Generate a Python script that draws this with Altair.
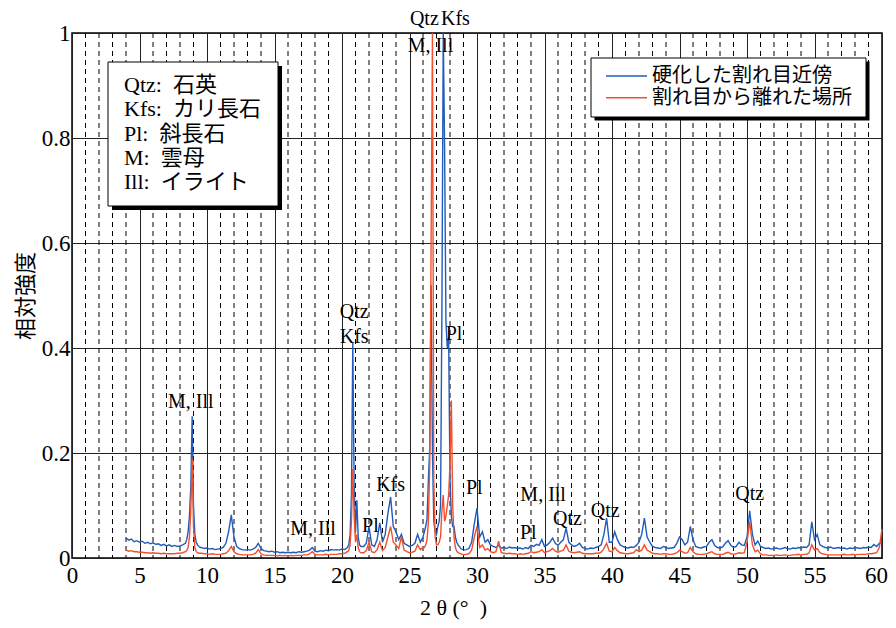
import altair as alt
import pandas as pd

# ---------------- data ----------------
SERIES_NEAR = "硬化した割れ目近傍"
SERIES_FAR = "割れ目から離れた場所"

x_a = [4.0, 4.2, 4.4, 4.6, 4.8, 5.0, 5.2, 5.4, 5.6, 5.8, 6.0, 6.2, 6.4, 6.6, 6.8,
       7.0, 7.2, 7.4, 7.6, 7.8, 8.0, 8.2, 8.4]
near_a = [0.038, 0.034, 0.036, 0.031, 0.033, 0.030, 0.032, 0.028, 0.030, 0.027,
          0.029, 0.026, 0.027, 0.024, 0.026, 0.023, 0.025, 0.022, 0.024, 0.022,
          0.023, 0.025, 0.028]
far_a = [0.015, 0.013, 0.014, 0.012, 0.012, 0.011, 0.011, 0.010, 0.010, 0.009,
         0.010, 0.009, 0.009, 0.008, 0.009, 0.008, 0.008, 0.008, 0.008, 0.009,
         0.009, 0.010, 0.012]

x_b = [8.5, 8.6, 8.7, 8.8, 8.9, 9.0, 9.1, 9.2, 9.3, 9.4, 9.5]
near_b = [0.035, 0.05, 0.08, 0.135, 0.27, 0.10, 0.045, 0.030, 0.025, 0.022, 0.020]
far_b = [0.014, 0.02, 0.04, 0.09, 0.19, 0.06, 0.02, 0.012, 0.010, 0.009, 0.009]

x_c = [9.6, 9.8, 10.0, 10.2, 10.4,
       10.6, 10.8, 11.0, 11.2, 11.4,
       11.6, 11.8, 12.0, 12.2, 12.4,
       12.6, 12.8, 13.0, 13.2, 13.4,
       13.6, 13.8, 14.0, 14.2, 14.4,
       14.6, 14.8, 15.0, 15.2, 15.4,
       15.6, 15.8, 16.0, 16.2, 16.4,
       16.6, 16.8, 17.0, 17.2, 17.4,
       17.6, 17.8, 18.0, 18.2, 18.4,
       18.6, 18.8, 19.0, 19.2, 19.4,
       19.6, 19.8, 20.0, 20.2, 20.4]
near_c = [0.020, 0.018, 0.019, 0.017, 0.018,
          0.016, 0.017, 0.018, 0.020, 0.028,
          0.050, 0.082, 0.040, 0.022, 0.018,
          0.016, 0.015, 0.016, 0.015, 0.017,
          0.020, 0.028, 0.018, 0.014, 0.013,
          0.012, 0.013, 0.011, 0.012, 0.010,
          0.011, 0.010, 0.011, 0.010, 0.011,
          0.010, 0.012, 0.011, 0.012, 0.013,
          0.015, 0.020, 0.013, 0.012, 0.014,
          0.013, 0.015, 0.014, 0.016, 0.015,
          0.016, 0.015, 0.017, 0.016, 0.020]
far_c = [0.009, 0.008, 0.008, 0.007, 0.008,
         0.007, 0.007, 0.007, 0.008, 0.009,
         0.014, 0.022, 0.012, 0.008, 0.007,
         0.006, 0.006, 0.006, 0.006, 0.007,
         0.009, 0.016, 0.008, 0.006, 0.005,
         0.005, 0.005, 0.005, 0.004, 0.005,
         0.004, 0.005, 0.004, 0.005, 0.004,
         0.005, 0.005, 0.005, 0.006, 0.006,
         0.008, 0.012, 0.007, 0.006, 0.006,
         0.006, 0.007, 0.006, 0.007, 0.007,
         0.007, 0.008, 0.008, 0.009, 0.012]

x_d = [20.5, 20.6, 20.7, 20.8, 20.9, 21.0, 21.1, 21.2, 21.3, 21.4, 21.5]
near_d = [0.025, 0.045, 0.12, 0.41, 0.14, 0.05, 0.11, 0.04, 0.025, 0.022, 0.022]
far_d = [0.014, 0.025, 0.07, 0.17, 0.08, 0.03, 0.045, 0.02, 0.012, 0.010, 0.010]

x_e = [21.6, 21.8, 22.0, 22.2, 22.4,
       22.6, 22.8, 23.0, 23.2, 23.4,
       23.6, 23.8, 24.0, 24.2, 24.4,
       24.6, 24.8, 25.0, 25.2, 25.4,
       25.6, 25.8, 26.0]
near_e = [0.022, 0.028, 0.060, 0.025, 0.022,
          0.035, 0.067, 0.030, 0.045, 0.085,
          0.116, 0.060, 0.050, 0.035, 0.045,
          0.028, 0.025, 0.022, 0.024, 0.028,
          0.045, 0.030, 0.040]
far_e = [0.010, 0.014, 0.030, 0.012, 0.010,
         0.016, 0.030, 0.014, 0.020, 0.040,
         0.060, 0.030, 0.025, 0.018, 0.040,
         0.015, 0.012, 0.010, 0.011, 0.013,
         0.025, 0.016, 0.020]

x_f = [26.1, 26.2, 26.3, 26.4, 26.5,
       26.6, 26.7, 26.8, 26.9, 27.0,
       27.1, 27.2, 27.3, 27.4, 27.5,
       27.6, 27.7, 27.8, 27.9, 28.0,
       28.1, 28.2, 28.3, 28.4, 28.5,
       28.6]
near_f = [0.050, 0.060, 0.075, 0.15, 0.21,
          0.52, 0.20, 0.07, 0.05, 0.045,
          0.060, 0.070, 0.10, 0.47, 1.0,
          0.78, 0.45, 0.40, 0.42, 0.15,
          0.08, 0.06, 0.06, 0.04, 0.030,
          0.025]
far_f = [0.020, 0.025, 0.035, 0.07, 0.18,
         0.60, 1.0, 0.15, 0.04, 0.025,
         0.025, 0.030, 0.04, 0.09, 0.12,
         0.07, 0.08, 0.10, 0.12, 0.18,
         0.30, 0.10, 0.04, 0.02, 0.013,
         0.010]

x_g = [28.8, 29.0, 29.2, 29.4, 29.6, 29.8]
near_g = [0.018, 0.015, 0.016, 0.018, 0.030, 0.065]
far_g = [0.008, 0.006, 0.007, 0.008, 0.015, 0.040]

x_h = [30.0, 30.2, 30.4, 30.6, 30.8,
       31.0, 31.2, 31.4, 31.6, 31.8,
       32.0, 32.2, 32.4, 32.6, 32.8,
       33.0, 33.2, 33.4, 33.6, 33.8,
       34.0, 34.2, 34.4, 34.6, 34.8]
near_h = [0.095, 0.040, 0.050, 0.030, 0.035,
          0.025, 0.022, 0.020, 0.024, 0.019,
          0.020, 0.018, 0.021, 0.019, 0.020,
          0.018, 0.019, 0.017, 0.020, 0.018,
          0.024, 0.022, 0.026, 0.024, 0.035]
far_h = [0.060, 0.020, 0.025, 0.015, 0.018,
         0.012, 0.010, 0.012, 0.032, 0.010,
         0.009, 0.008, 0.009, 0.008, 0.008,
         0.007, 0.008, 0.007, 0.008, 0.009,
         0.012, 0.010, 0.011, 0.012, 0.016]

x_i = [35.0, 35.2, 35.4, 35.6, 35.8,
       36.0, 36.2, 36.4, 36.6, 36.8,
       37.0, 37.2, 37.4, 37.6, 37.8,
       38.0, 38.2, 38.4, 38.6, 38.8,
       39.0, 39.2, 39.4, 39.6, 39.8]
near_i = [0.022, 0.025, 0.030, 0.038, 0.028,
          0.024, 0.030, 0.035, 0.057, 0.030,
          0.025, 0.022, 0.024, 0.028, 0.020,
          0.018, 0.017, 0.019, 0.018, 0.020,
          0.022, 0.025, 0.045, 0.076, 0.030]
far_i = [0.010, 0.012, 0.014, 0.018, 0.013,
         0.011, 0.013, 0.015, 0.025, 0.013,
         0.011, 0.010, 0.011, 0.012, 0.009,
         0.008, 0.008, 0.008, 0.008, 0.009,
         0.009, 0.011, 0.018, 0.028, 0.013]

x_j = [40.0, 40.2, 40.4, 40.6, 40.8,
       41.0, 41.2, 41.4, 41.6, 41.8,
       42.0, 42.2, 42.4, 42.6, 42.8,
       43.0, 43.2, 43.4, 43.6, 43.8,
       44.0, 44.2, 44.4, 44.6, 44.8]
near_j = [0.030, 0.050, 0.035, 0.025, 0.022,
          0.020, 0.019, 0.021, 0.020, 0.024,
          0.030, 0.045, 0.076, 0.040, 0.030,
          0.022, 0.020, 0.019, 0.018, 0.022,
          0.020, 0.018, 0.019, 0.020, 0.028]
far_j = [0.012, 0.020, 0.014, 0.010, 0.009,
         0.008, 0.008, 0.009, 0.010, 0.016,
         0.012, 0.015, 0.025, 0.015, 0.012,
         0.009, 0.008, 0.008, 0.007, 0.008,
         0.008, 0.007, 0.007, 0.008, 0.010]

x_k = [45.0, 45.2, 45.4, 45.6, 45.8,
       46.0, 46.2, 46.4, 46.6, 46.8,
       47.0, 47.2, 47.4, 47.6, 47.8,
       48.0, 48.2, 48.4, 48.6, 48.8,
       49.0, 49.2, 49.4, 49.6, 49.8]
near_k = [0.040, 0.035, 0.025, 0.030, 0.060,
          0.035, 0.022, 0.020, 0.019, 0.021,
          0.022, 0.030, 0.035, 0.024, 0.020,
          0.019, 0.021, 0.028, 0.033, 0.024,
          0.020, 0.022, 0.030, 0.025, 0.024]
far_k = [0.015, 0.012, 0.009, 0.010, 0.020,
         0.012, 0.008, 0.007, 0.007, 0.007,
         0.008, 0.010, 0.012, 0.008, 0.007,
         0.007, 0.007, 0.009, 0.011, 0.008,
         0.007, 0.008, 0.010, 0.009, 0.010]

x_l = [50.0, 50.2, 50.4, 50.6, 50.8,
       51.0, 51.2, 51.4, 51.6, 51.8,
       52.0, 52.2, 52.4, 52.6, 52.8,
       53.0, 53.2, 53.4, 53.6, 53.8,
       54.0, 54.2, 54.4, 54.6, 54.8]
near_l = [0.040, 0.090, 0.045, 0.025, 0.032,
          0.022, 0.020, 0.018, 0.019, 0.017,
          0.018, 0.019, 0.017, 0.018, 0.020,
          0.018, 0.017, 0.019, 0.018, 0.020,
          0.019, 0.021, 0.020, 0.025, 0.069]
far_l = [0.030, 0.070, 0.025, 0.012, 0.015,
         0.008, 0.006, 0.006, 0.005, 0.005,
         0.005, 0.006, 0.005, 0.005, 0.006,
         0.005, 0.005, 0.006, 0.006, 0.007,
         0.006, 0.007, 0.007, 0.010, 0.025]

x_m = [55.0, 55.2, 55.4, 55.6, 55.8,
       56.0, 56.2, 56.4, 56.6, 56.8,
       57.0, 57.2, 57.4, 57.6, 57.8,
       58.0, 58.2, 58.4, 58.6, 58.8,
       59.0, 59.2, 59.4, 59.6, 59.8,
       60.0]
near_m = [0.035, 0.045, 0.025, 0.022, 0.020,
          0.019, 0.021, 0.018, 0.019, 0.020,
          0.018, 0.019, 0.017, 0.019, 0.018,
          0.020, 0.019, 0.018, 0.020, 0.019,
          0.021, 0.020, 0.026, 0.022, 0.028,
          0.030]
far_m = [0.015, 0.018, 0.010, 0.008, 0.007,
         0.006, 0.006, 0.006, 0.006, 0.006,
         0.006, 0.007, 0.006, 0.006, 0.007,
         0.006, 0.007, 0.007, 0.007, 0.007,
         0.008, 0.008, 0.009, 0.010, 0.020,
         0.055]

segments = [
    (x_a, near_a, far_a), (x_b, near_b, far_b), (x_c, near_c, far_c),
    (x_d, near_d, far_d), (x_e, near_e, far_e), (x_f, near_f, far_f),
    (x_g, near_g, far_g), (x_h, near_h, far_h), (x_i, near_i, far_i),
    (x_j, near_j, far_j), (x_k, near_k, far_k), (x_l, near_l, far_l),
    (x_m, near_m, far_m),
]

# peak labels
peak_labels = ["M, Ill", "M, Ill", "Pl", "Kfs", "Qtz", "Kfs", "Qtz", "Kfs", "M, Ill",
               "Pl", "Pl", "M, Ill", "Pl", "Qtz", "Qtz", "Qtz"]
peak_x = [8.8, 17.85, 22.1, 23.6, 20.9, 20.9, 26.1, 28.4, 26.55,
          28.3, 29.8, 34.9, 33.8, 36.7, 39.5, 50.2]
peak_y = [0.285, 0.044, 0.05, 0.128, 0.457, 0.41, 1.015, 1.015, 0.964,
          0.415, 0.122, 0.108, 0.036, 0.063, 0.078, 0.11]

mineral_lines = ["Qtz:\u00a0 石英", "Kfs:\u00a0 カリ長石", "Pl:\u00a0 斜長石", "M:\u00a0 雲母", "Ill:\u00a0 イライト"]

major_x = [0, 5, 10, 15, 20, 25, 30, 35, 40, 45, 50, 55, 60]
minor_x = [1, 2, 3, 4, 6, 7, 8, 9, 11, 12, 13, 14, 16, 17, 18, 19, 21, 22, 23, 24,
           26, 27, 28, 29, 31, 32, 33, 34, 36, 37, 38, 39, 41, 42, 43, 44,
           46, 47, 48, 49, 51, 52, 53, 54, 56, 57, 58, 59]
major_y = [0, 0.2, 0.4, 0.6, 0.8, 1]

# ---------------- build tables ----------------
rows = []
for xs, near, far in segments:
    assert len(xs) == len(near) == len(far), (xs[0], len(xs), len(near), len(far))
    for xv, nv in zip(xs, near):
        rows.append({"two_theta": xv, "intensity": nv, "series": SERIES_NEAR})
for xs, near, far in segments:
    for xv, fv in zip(xs, far):
        rows.append({"two_theta": xv, "intensity": fv, "series": SERIES_FAR})
spec_df = pd.DataFrame(rows)

ann_df = pd.DataFrame({"x": peak_x, "y": peak_y, "label": peak_labels})
minor_df = pd.DataFrame({"pos": minor_x})
one = pd.DataFrame({"k": [0]})

BLUE = "#1f5cbb"
RED = "#f2502d"
LATIN = "Liberation Serif"
SERIF = "Liberation Serif, Noto Sans CJK JP"
JP = "Noto Sans CJK JP"

xscale = alt.Scale(domain=[0, 60], nice=False, zero=False)
yscale = alt.Scale(domain=[0, 1], nice=False, zero=False)

x_axis = alt.Axis(values=major_x, grid=True, gridColor="#222222", gridWidth=1,
                  domain=False, ticks=False, labelFont=LATIN,
                  labelFontSize=23, labelColor="black", labelPadding=6,
                  labelFlush=False, labelOverlap=False,
                  labelOffset={"condition": {"test": "datum.value == 60", "value": -6}, "value": 0},
                  title="2 θ (°\u00a0\u00a0)", titleFont=SERIF, titleFontSize=22,
                  titleFontWeight="normal", titleColor="black",
                  titleX=381, titleY=49, titleBaseline="middle")
y_axis = alt.Axis(values=major_y, grid=True, gridColor="#222222", gridWidth=1,
                  domain=False, ticks=False, labelFont=LATIN,
                  labelFontSize=23, labelColor="black", labelPadding=2,
                  labelOverlap=False, labelFlush=False,
                  labelExpr="datum.value == 0 ? '0' : (datum.value == 1 ? '1' : format(datum.value, '.1f'))",
                  title="相対強度", titleFont=JP, titleFontSize=22,
                  titleFontWeight="normal", titleColor="black", titlePadding=4)

minor = alt.Chart(minor_df).mark_rule(color="black", strokeWidth=1, strokeDash=[5, 4]).encode(
    x=alt.X("pos:Q", scale=xscale, axis=x_axis)
)

lines = alt.Chart(spec_df).mark_line(strokeWidth=1.4).encode(
    x=alt.X("two_theta:Q", scale=xscale, axis=x_axis),
    y=alt.Y("intensity:Q", scale=yscale, axis=y_axis),
    color=alt.Color("series:N", scale=alt.Scale(domain=[SERIES_NEAR, SERIES_FAR], range=[BLUE, RED]),
                    legend=None),
)

ann = alt.Chart(ann_df).mark_text(font=LATIN, fontSize=20, color="black",
                                  align="center", baseline="alphabetic").encode(
    x=alt.X("x:Q", scale=xscale, axis=x_axis),
    y=alt.Y("y:Q", scale=yscale, axis=y_axis),
    text="label:N",
)

# mineral key box
min_shadow = alt.Chart(one).mark_rect(fill="black").encode(
    x=alt.value(40), x2=alt.value(210), y=alt.value(33), y2=alt.value(177))
min_box = alt.Chart(one).mark_rect(fill="white", stroke="black", strokeWidth=1).encode(
    x=alt.value(36), x2=alt.value(206), y=alt.value(29), y2=alt.value(173))
min_text = alt.Chart(one).mark_text(text=mineral_lines, font=SERIF, fontSize=22, lineHeight=24.3,
                                    align="left", baseline="middle", color="black").encode(
    x=alt.value(52), y=alt.value(52))

# series legend box
leg_shadow = alt.Chart(one).mark_rect(fill="black").encode(
    x=alt.value(522.5), x2=alt.value(797.5), y=alt.value(28.5), y2=alt.value(87.5))
leg_box = alt.Chart(one).mark_rect(fill="white", stroke="black", strokeWidth=1).encode(
    x=alt.value(519), x2=alt.value(794), y=alt.value(25), y2=alt.value(84))
leg_rule1 = alt.Chart(one).mark_rule(color=BLUE, strokeWidth=1.5).encode(
    x=alt.value(534), x2=alt.value(575), y=alt.value(43))
leg_rule2 = alt.Chart(one).mark_rule(color=RED, strokeWidth=1.5).encode(
    x=alt.value(534), x2=alt.value(575), y=alt.value(64.7))
leg_text1 = alt.Chart(one).mark_text(text=SERIES_NEAR, font=JP, fontSize=20, align="left",
                                     baseline="middle", color="black").encode(
    x=alt.value(580), y=alt.value(43))
leg_text2 = alt.Chart(one).mark_text(text=SERIES_FAR, font=JP, fontSize=20, align="left",
                                     baseline="middle", color="black").encode(
    x=alt.value(580), y=alt.value(64.7))

chart = alt.layer(
    minor, lines, ann,
    min_shadow, min_box, min_text,
    leg_shadow, leg_box, leg_rule1, leg_rule2, leg_text1, leg_text2,
).properties(
    width=810, height=525,
    autosize=alt.AutoSizeParams(type="none"),
    padding={"left": 64, "top": 25, "right": 6, "bottom": 62},
    background="white",
).configure_view(
    stroke="black", strokeWidth=1.5
).configure_axis(
    labelFont=LATIN, labelFontSize=23, labelColor="black"
)

chart.save("out.html", embed_options={"renderer": "svg", "actions": False})
